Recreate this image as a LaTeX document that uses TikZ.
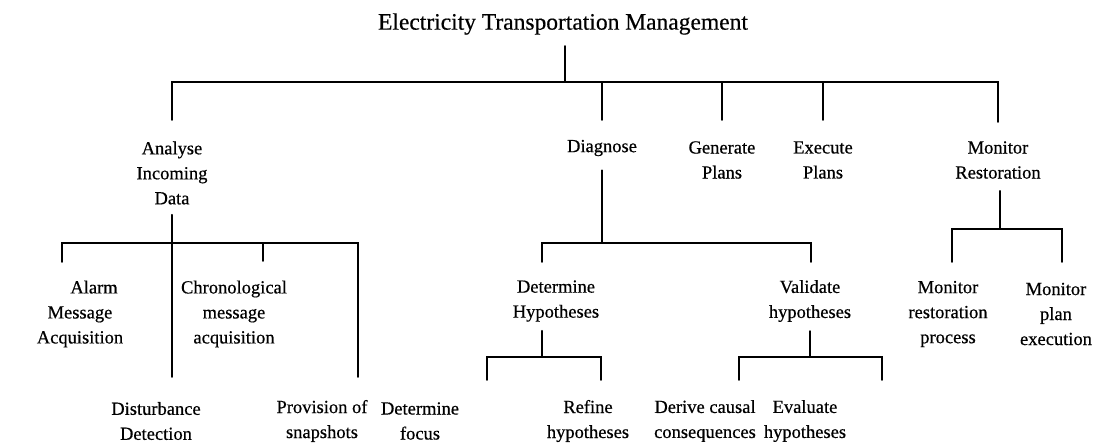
\documentclass[tikz,border=0pt]{standalone}
\usepackage{fontspec}
\setmainfont{Liberation Serif}[FakeBold=0.5]
\begin{document}
\begin{tikzpicture}[x=1pt,y=-1pt,
  lbl/.style={align=center,inner sep=0pt,font=\fontsize{18.5}{25}\selectfont},
  ttl/.style={inner sep=0pt,font=\fontsize{23.5}{26}\selectfont},
  conn/.style={line width=1.7pt,line cap=round,line join=miter}]
\useasboundingbox (0,0) rectangle (1120,447);

% ---- labels ----
\node[ttl] (root) at (563,24) {Electricity Transportation Management};

\node[lbl] (analyse)  at (172,173) {Analyse\\Incoming\\Data};
\node[lbl] (diagnose) at (602,148) {Diagnose};
\node[lbl] (generate) at (722,160) {Generate\\Plans};
\node[lbl] (execute)  at (823,160) {Execute\\Plans};
\node[lbl] (monitor)  at (998,160) {Monitor\\Restoration};

\node[lbl] (alarm)  at (80,314) {\hspace*{28pt}Alarm\\Message\\Acquisition};
\node[lbl] (chrono) at (234,314) {Chronological\\message\\acquisition};
\node[lbl] (dethyp) at (556,301) {Determine\\Hypotheses};
\node[lbl] (valhyp) at (810,301) {Validate\\hypotheses};
\node[lbl] (monrest) at (948,314) {Monitor\\restoration\\process};
\node[lbl] (monplan) at (1056,314) {Monitor\\plan\\execution};

\node[lbl] (disturb) at (156,421) {Disturbance\\Detection};
\node[lbl] (snap)    at (322,421) {Provision of\\snapshots};
\node[lbl] (focus)   at (420,421) {Determine\\focus};
\node[lbl] (refine)  at (588,421) {Refine\\hypotheses};
\node[lbl] (derive)  at (705,421) {Derive causal\\consequences};
\node[lbl] (evaluate) at (805,421) {Evaluate\\hypotheses};

% ---- junction points ----
\coordinate (rj) at (565,82);
\coordinate (aj) at (172,243);
\coordinate (dj) at (602,243);
\coordinate (hj) at (542,357);
\coordinate (vj) at (810,357);
\coordinate (mj) at (1000,229);

% ---- top level ----
\draw[conn] (rj |- 0,46) -- (rj);
\draw[conn] (analyse.north |- 0,120) |- (rj) -| (monitor.north |- 0,122);
\draw[conn] (diagnose.north |- rj) -- ++(0,38);
\draw[conn] (generate.north |- rj) -- ++(0,38);
\draw[conn] (execute.north |- rj) -- ++(0,38);

% ---- Analyse Incoming Data ----
\draw[conn] (analyse.south) ++(0,10) -- (aj) -- (172,377);
\draw[conn] (62,262) |- (aj) -| (358,377);
\draw[conn] (263,243) -- (263,261);

% ---- Diagnose ----
\draw[conn] (diagnose.south) ++(0,14) -- (dj);
\draw[conn] (542,262) |- (dj) -| (811,262);

% ---- Determine Hypotheses ----
\draw[conn] (dethyp.south -| hj) ++(0,9) -- (hj);
\draw[conn] (487,380) |- (hj) -| (601,380);

% ---- Validate hypotheses ----
\draw[conn] (valhyp.south -| vj) ++(0,9) -- (vj);
\draw[conn] (739,380) |- (vj) -| (882,380);

% ---- Monitor Restoration ----
\draw[conn] (monitor.south -| mj) ++(0,12) -- (mj);
\draw[conn] (952,262) |- (mj) -| (1062,262);
\end{tikzpicture}
\end{document}
